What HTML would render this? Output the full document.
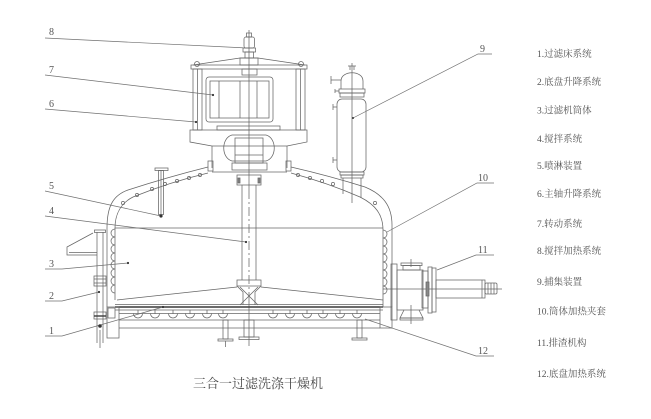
<!DOCTYPE html>
<html><head><meta charset="utf-8">
<style>
html,body{margin:0;padding:0;background:#fff;}
svg{display:block;}
.n{font-family:"Liberation Serif","Noto Serif CJK SC",serif;font-size:10px;fill:#555;}
.lg{font-family:"Liberation Serif","Noto Serif CJK SC",serif;font-size:9.5px;fill:#555;}
.tt{font-family:"Liberation Serif","Noto Serif CJK SC",serif;font-size:13px;fill:#4a4a4a;}
</style></head><body>
<svg width="651" height="419" viewBox="0 0 651 419" xmlns="http://www.w3.org/2000/svg">
<rect width="651" height="419" fill="#fff"/>
<g fill="none" stroke="#666" stroke-width="0.75">
<!-- top knob -->
<rect x="246.5" y="33" width="5" height="4"/>
<rect x="244" y="37" width="10.5" height="11" rx="2"/>
<rect x="243" y="48" width="12.5" height="4"/>
<rect x="245" y="52" width="8.5" height="6"/>
<!-- lid -->
<path d="M193,65 L240,58 L258,58 L305,65"/>
<rect x="191" y="65" width="116" height="4"/>
<circle cx="197" cy="64" r="2.5"/><circle cx="301" cy="64" r="2.5"/>
<rect x="240" y="58" width="18" height="7"/>
<!-- columns -->
<rect x="193" y="69" width="9" height="61"/>
<line x1="197.5" y1="69" x2="197.5" y2="130"/>
<rect x="296" y="69" width="9" height="61"/>
<line x1="300.5" y1="69" x2="300.5" y2="130"/>
<rect x="242" y="69" width="15" height="6"/>
<!-- motor -->
<rect x="206" y="77" width="67" height="45" rx="3"/>
<rect x="210" y="81" width="59" height="37"/>
<line x1="219" y1="81" x2="219" y2="118"/>
<line x1="240" y1="81" x2="240" y2="118"/>
<line x1="257" y1="81" x2="257" y2="118"/>
<rect x="217" y="126" width="63" height="4"/>
<!-- base plate -->
<path d="M190,130 H307 V142 L287,146 H212 L190,142 Z"/>
<line x1="212" y1="146" x2="212" y2="168"/>
<line x1="287" y1="146" x2="287" y2="168"/>
<path d="M232,135 C221,138 221,158 232,161 H266 C277,158 277,138 266,135 Z"/>
<rect x="235" y="138" width="28" height="25"/>
<line x1="235" y1="155" x2="263" y2="155"/>
<rect x="232" y="163" width="35" height="7"/>
<rect x="208" y="161" width="5" height="10"/>
<rect x="286" y="161" width="5" height="10"/>
<line x1="212" y1="172" x2="287" y2="172"/>
<!-- shaft -->
<rect x="237" y="175" width="24" height="10"/>
<rect x="238" y="178" width="2" height="5" fill="#888"/><rect x="258" y="178" width="2" height="5" fill="#888"/>
<line x1="242" y1="185" x2="242" y2="280"/>
<line x1="256" y1="185" x2="256" y2="280"/>
<rect x="237" y="280" width="24" height="6"/>
<path d="M237,286 L243,292 L243,305 M261,286 L255,292 L255,305"/>
<path d="M240,287 L258,305 M258,287 L240,305"/>
<!-- axis -->
<line x1="249" y1="30" x2="249" y2="190"/>
<line x1="249" y1="190" x2="249" y2="300" stroke-dasharray="9,3,2,3"/>
<line x1="249" y1="300" x2="249" y2="346"/>
<!-- dome left -->
<path d="M107,307 L107,228 C107,205 114,195 128,190 Q168,177 208,167"/>
<path d="M115,300 L115,228 C115,214 121,203 133,197 Q170,182 208,173"/>
<!-- dome right -->
<path d="M291,167 Q330,176 365,187 C382,194 392,205 392,225 L392,307"/>
<path d="M291,173 Q328,183 360,197 C376,205 383,215 383,230 L383,307"/>
<!-- dome coil circles -->
<g stroke-width="0.7">
<circle cx="123" cy="203" r="1.6"/><circle cx="137" cy="195" r="1.6"/><circle cx="152" cy="189" r="1.6"/><circle cx="165" cy="184" r="1.6"/><circle cx="177" cy="181" r="1.6"/><circle cx="189" cy="178" r="1.6"/><circle cx="200" cy="175" r="1.6"/>
<circle cx="298" cy="175" r="1.6"/><circle cx="310" cy="178" r="1.6"/><circle cx="322" cy="181" r="1.6"/><circle cx="333" cy="184" r="1.6"/><circle cx="375" cy="203" r="1.6"/>
</g>
<!-- cylinder top -->
<line x1="115" y1="228" x2="383" y2="228"/>
<!-- wall bumps -->
<path d="M115,229 a4,4 0 0 0 0,8 a4,4 0 0 0 0,8 a4,4 0 0 0 0,8 a4,4 0 0 0 0,8 a4,4 0 0 0 0,8 a4,4 0 0 0 0,8 a4,4 0 0 0 0,8 a4,4 0 0 0 0,8"/>
<path d="M383,230 a4,4 0 0 1 0,8 a4,4 0 0 1 0,8 a4,4 0 0 1 0,8 a4,4 0 0 1 0,8 a4,4 0 0 1 0,8 a4,4 0 0 1 0,8 a4,4 0 0 1 0,8 a4,4 0 0 1 0,8"/>
<!-- floor -->
<line x1="117" y1="300" x2="237" y2="287"/>
<line x1="261" y1="287" x2="383" y2="300"/>
<!-- filter bed -->
<line x1="115" y1="304.5" x2="383" y2="304.5"/>
<line x1="115" y1="307" x2="383" y2="307" stroke="#3a3a3a" stroke-width="1.6"/>
<line x1="115" y1="310" x2="383" y2="310"/>
<line x1="119" y1="313.5" x2="380" y2="313.5"/>
<path d="M133.5,313.5 a4.5,4.5 0 0 0 9,0 M150.5,313.5 a4.5,4.5 0 0 0 9,0 M168.5,313.5 a4.5,4.5 0 0 0 9,0 M185.5,313.5 a4.5,4.5 0 0 0 9,0 M202.5,313.5 a4.5,4.5 0 0 0 9,0 M218.5,313.5 a4.5,4.5 0 0 0 9,0 M268.5,313.5 a4.5,4.5 0 0 0 9,0 M285.5,313.5 a4.5,4.5 0 0 0 9,0 M302.5,313.5 a4.5,4.5 0 0 0 9,0 M318.5,313.5 a4.5,4.5 0 0 0 9,0 M335.5,313.5 a4.5,4.5 0 0 0 9,0 M352.5,313.5 a4.5,4.5 0 0 0 9,0"/>
<path d="M138,310 V314 M155,310 V314 M173,310 V314 M190,310 V314 M207,310 V314 M223,310 V314 M273,310 V314 M290,310 V314 M307,310 V314 M323,310 V314 M340,310 V314 M357,310 V314"/>
<line x1="119" y1="320" x2="380" y2="320"/>
<line x1="119" y1="328" x2="380" y2="328"/>
<!-- bottom boxes -->
<rect x="107" y="307" width="12" height="31"/>
<rect x="108" y="308" width="7" height="10"/>
<rect x="380" y="307" width="12" height="21"/>
<!-- legs -->
<rect x="223" y="320" width="5" height="19"/>
<rect x="218" y="339" width="15" height="2"/>
<line x1="225.5" y1="341" x2="225.5" y2="347"/>
<rect x="244" y="320" width="10" height="17"/>
<rect x="239" y="337" width="20" height="2.5"/>
<rect x="357" y="320" width="5" height="18"/>
<rect x="352" y="338" width="15" height="2"/>
<!-- lift system -->
<line x1="97" y1="232" x2="97" y2="343"/>
<line x1="103" y1="232" x2="103" y2="343"/>
<rect x="94.5" y="230" width="11" height="2.5"/>
<rect x="94" y="276" width="12" height="10"/>
<line x1="94" y1="279" x2="106" y2="279"/><line x1="94" y1="283" x2="106" y2="283"/>
<rect x="94" y="312" width="12" height="7"/>
<line x1="94" y1="316" x2="106" y2="316" stroke="#3a3a3a" stroke-width="1.4"/>
<line x1="100" y1="330" x2="100" y2="348"/>
<path d="M93,233 L67,247 L67,255 L97,255"/>
<line x1="69" y1="252.5" x2="97" y2="252.5"/>
<!-- sprayer -->
<rect x="155" y="168" width="13" height="2.5"/>
<rect x="158.5" y="170.5" width="5" height="44"/>
<line x1="161" y1="170" x2="161" y2="214"/>
<!-- catcher 9 -->
<line x1="352" y1="63" x2="352" y2="203"/>
<path d="M348,66 H356 M350,66 V70 M354,66 V70"/>
<path d="M341,89 V81 C341,70 363,70 363,81 V89"/>
<rect x="339" y="89" width="26" height="4"/>
<rect x="340" y="93" width="24" height="4"/>
<rect x="337" y="99" width="29" height="73" rx="5"/>
<rect x="340" y="172" width="24" height="3"/>
<rect x="341" y="175" width="22" height="3"/>
<line x1="343" y1="178" x2="343" y2="194"/>
<line x1="361" y1="178" x2="361" y2="198"/>
<path d="M331,76 V84 M331,80 H341"/>
<path d="M335,89 V93 M335,91 H339"/>
<path d="M333,104 V110 M333,107 H337"/>
<path d="M333,157 V163 M333,160 H337"/>
<!-- discharge 11 -->
<line x1="383" y1="289" x2="502" y2="289"/>
<rect x="391" y="264" width="6" height="56"/>
<rect x="397" y="270" width="26" height="40"/>
<rect x="401" y="263" width="21" height="2.5"/>
<rect x="403" y="265.5" width="17" height="4.5"/>
<line x1="411" y1="259" x2="411" y2="267"/>
<path d="M404,310 L400,318 H423 L419,310"/>
<rect x="400" y="318" width="23" height="2"/>
<line x1="411" y1="305" x2="411" y2="324"/>
<rect x="422" y="271" width="6" height="37"/>
<rect x="428" y="267" width="4" height="46"/>
<rect x="432" y="268" width="4" height="44"/>
<rect x="426" y="282" width="3" height="14" fill="#888"/>
<rect x="436" y="280" width="49" height="18"/>
<line x1="482" y1="280" x2="482" y2="298"/>
<rect x="485" y="283" width="12" height="11" rx="1.5"/>
<path d="M488,283 V294 M491,283 V294 M494,283 V294"/>
<!-- leaders -->
<g stroke="#707070" stroke-width="0.7">
<polyline points="45,38 247,48"/>
<polyline points="45,75 213,95"/>
<polyline points="45,109 196,122"/>
<polyline points="45,191 161,216"/>
<polyline points="45,216 246,242"/>
<polyline points="45,269 62,269 128,263"/>
<polyline points="45,301 62,301 99,292"/>
<polyline points="45,336 62,336 163,307"/>
<polyline points="492,54 478,54 353,118"/>
<polyline points="494,183 477,183 387,232"/>
<polyline points="494,255 476,255 437,270"/>
<polyline points="494,356 476,356 365,319"/>
</g>
</g>
<!-- dots -->
<g fill="#333">
<circle cx="213" cy="95" r="1.1"/><circle cx="196" cy="122" r="1.1"/>
<circle cx="161" cy="216" r="1.6"/><circle cx="246" cy="242" r="1.1"/>
<circle cx="128" cy="263" r="1.1"/><circle cx="99" cy="292" r="1.1"/>
<circle cx="163" cy="307" r="1.1"/><circle cx="100" cy="326" r="1.8"/>
<circle cx="353" cy="118" r="1"/>
</g>
<!-- numbers -->
<text class="n" x="49" y="35">8</text>
<text class="n" x="49" y="73">7</text>
<text class="n" x="49" y="107">6</text>
<text class="n" x="49" y="189">5</text>
<text class="n" x="49" y="214">4</text>
<text class="n" x="49" y="267">3</text>
<text class="n" x="49" y="299">2</text>
<text class="n" x="49" y="334">1</text>
<text class="n" x="480" y="52">9</text>
<text class="n" x="478" y="181">10</text>
<text class="n" x="478" y="253">11</text>
<text class="n" x="478" y="354">12</text>
<!-- legend -->
<text class="lg" x="537" y="57">1.过滤床系统</text>
<text class="lg" x="537" y="85">2.底盘升降系统</text>
<text class="lg" x="537" y="113.5">3.过滤机筒体</text>
<text class="lg" x="537" y="142">4.搅拌系统</text>
<text class="lg" x="537" y="169">5.喷淋装置</text>
<text class="lg" x="537" y="197">6.主轴升降系统</text>
<text class="lg" x="537" y="227">7.转动系统</text>
<text class="lg" x="537" y="254">8.搅拌加热系统</text>
<text class="lg" x="537" y="285">9.捕集装置</text>
<text class="lg" x="537" y="314.5">10.筒体加热夹套</text>
<text class="lg" x="537" y="346">11.排渣机构</text>
<text class="lg" x="537" y="377">12.底盘加热系统</text>
<!-- title -->
<text class="tt" x="193" y="388">三合一过滤洗涤干燥机</text>
</svg>
</body></html>
